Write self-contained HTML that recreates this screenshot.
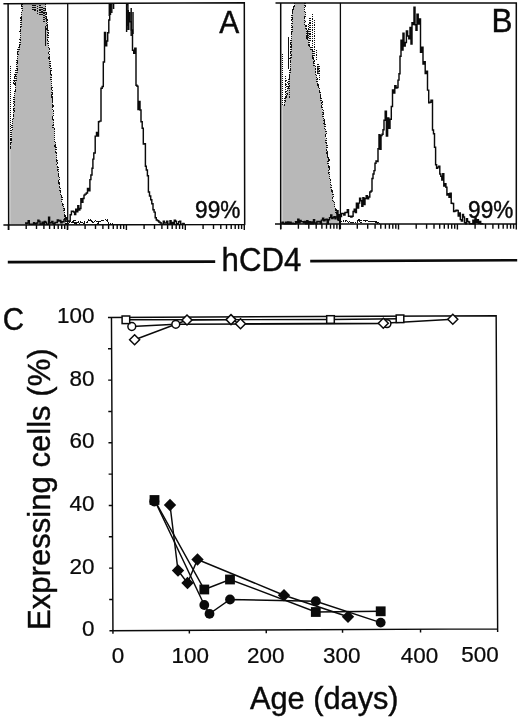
<!DOCTYPE html>
<html><head><meta charset="utf-8"><title>Figure</title>
<style>
html,body{margin:0;padding:0;background:#fff;}
svg{display:block;will-change:transform;}
</style></head>
<body>
<svg width="520" height="718" viewBox="0 0 520 718">
<rect x="0" y="0" width="520" height="718" fill="#fff"/>
<path d="M10.2 224.5L10.2 148.0L10.4 148.0L10.5 148.0L10.5 145.3L10.5 145.3L10.5 142.7L11.0 142.7L11.0 140.0L11.6 140.0L11.6 137.6L11.6 137.6L11.6 135.1L11.2 135.1L11.2 132.7L11.7 132.7L11.7 130.3L12.5 130.3L12.5 127.9L12.1 127.9L12.1 125.4L12.7 125.4L12.7 123.0L12.2 123.0L12.2 120.7L12.2 120.7L12.2 118.3L13.3 118.3L13.3 116.0L13.6 116.0L13.6 113.7L13.3 113.7L13.3 111.4L13.9 111.4L13.9 109.0L13.7 109.0L13.7 106.7L14.2 106.7L14.2 104.3L13.6 104.3L13.6 101.9L14.0 101.9L14.0 99.5L14.0 99.5L14.0 97.2L14.3 97.2L14.3 94.8L14.8 94.8L14.8 92.4L15.0 92.4L15.0 90.0L15.4 90.0L15.4 87.8L15.6 87.8L15.6 85.6L15.1 85.6L15.1 83.3L15.5 83.3L15.5 81.1L16.0 81.1L16.0 78.9L16.0 78.9L16.0 76.7L16.4 76.7L16.4 74.4L16.5 74.4L16.5 72.2L17.0 72.2L17.0 70.0L16.8 70.0L16.8 67.7L17.0 67.7L17.0 65.4L16.7 65.4L16.7 63.1L17.1 63.1L17.1 60.9L17.2 60.9L17.2 58.6L17.2 58.6L17.2 56.3L17.9 56.3L17.9 54.0L17.5 54.0L17.5 51.7L18.1 51.7L18.1 49.4L18.9 49.4L18.9 47.0L19.4 47.0L19.4 44.7L20.1 44.7L20.1 42.3L20.5 42.3L20.5 40.0L19.7 40.0L19.7 37.7L20.4 37.7L20.4 35.5L20.7 35.5L20.7 33.2L20.1 33.2L20.1 31.0L20.4 31.0L20.4 28.7L20.3 28.7L20.3 26.4L21.2 26.4L21.2 24.2L21.1 24.2L21.1 21.9L21.1 21.9L21.1 19.6L20.9 19.6L20.9 17.4L21.5 17.4L21.5 15.1L21.5 15.1L21.5 12.9L21.6 12.9L21.6 10.6L22.2 10.6L22.2 8.3L21.9 8.3L21.9 6.1L22.0 6.1L22.0 3.8L45.6 3.8L45.6 6.3L45.7 6.3L45.7 8.9L45.3 8.9L45.3 11.4L45.8 11.4L45.8 14.0L46.0 14.0L46.0 16.4L46.1 16.4L46.1 18.7L47.2 18.7L47.2 21.1L46.6 21.1L46.6 23.5L47.2 23.5L47.2 25.8L47.3 25.8L47.3 28.2L47.1 28.2L47.1 30.5L47.9 30.5L47.9 32.9L47.4 32.9L47.4 35.3L48.1 35.3L48.1 37.6L47.7 37.6L47.7 40.0L48.2 40.0L48.2 42.4L48.1 42.4L48.1 44.8L48.3 44.8L48.3 47.2L49.3 47.2L49.3 49.6L49.3 49.6L49.3 52.1L48.8 52.1L48.8 54.5L49.7 54.5L49.7 56.9L49.0 56.9L49.0 59.3L49.4 59.3L49.4 61.7L50.1 61.7L50.1 63.9L50.1 63.9L50.1 66.1L49.7 66.1L49.7 68.4L51.0 68.4L51.0 70.6L50.2 70.6L50.2 72.8L50.5 72.8L50.5 75.0L51.4 75.0L51.4 77.3L51.1 77.3L51.1 79.5L51.2 79.5L51.2 81.7L51.2 81.7L51.2 84.0L51.3 84.0L51.3 86.2L52.0 86.2L52.0 88.5L51.6 88.5L51.6 90.7L52.1 90.7L52.1 93.0L51.9 93.0L51.9 95.2L52.1 95.2L52.1 97.5L52.8 97.5L52.8 99.7L52.3 99.7L52.3 102.0L52.5 102.0L52.5 104.2L52.9 104.2L52.9 106.5L52.2 106.5L52.2 108.7L52.2 108.7L52.2 111.0L53.2 111.0L53.2 113.2L53.2 113.2L53.2 115.5L52.5 115.5L52.5 117.7L52.6 117.7L52.6 120.0L53.3 120.0L53.3 122.6L53.8 122.6L53.8 125.2L53.1 125.2L53.1 127.8L54.3 127.8L54.3 130.4L54.4 130.4L54.4 133.0L54.3 133.0L54.3 135.4L54.4 135.4L54.4 137.7L54.2 137.7L54.2 140.1L54.4 140.1L54.4 142.5L55.8 142.5L55.8 144.8L55.1 144.8L55.1 147.2L55.9 147.2L55.9 149.6L55.7 149.6L55.7 152.0L56.6 152.0L56.6 154.3L56.6 154.3L56.6 156.7L56.5 156.7L56.5 158.9L56.5 158.9L56.5 161.1L57.4 161.1L57.4 163.3L56.8 163.3L56.8 165.6L57.2 165.6L57.2 167.8L57.9 167.8L57.9 170.0L58.4 170.0L58.4 172.4L58.4 172.4L58.4 174.8L58.3 174.8L58.3 177.2L59.4 177.2L59.4 179.6L58.8 179.6L58.8 182.0L58.9 182.0L58.9 184.5L59.6 184.5L59.6 187.0L60.2 187.0L60.2 189.5L60.1 189.5L60.1 192.0L60.6 192.0L60.6 194.6L61.2 194.6L61.2 197.2L61.9 197.2L61.9 199.8L61.8 199.8L61.8 202.4L62.4 202.4L62.4 205.0L63.5 205.0L63.5 207.5L64.1 207.5L64.1 210.0L64.2 210.0L64.2 212.5L64.7 212.5L64.7 215.0L65.1 215.0L65.1 218.0L65.3 218.0L65.3 221.0L65.9 221.0L65.9 224.5L67.6 224.5Z" fill="#b8b8b8" stroke="none"/>
<path d="M22.0 3.8L22.0 6.1L21.9 6.1L21.9 8.3L22.2 8.3L22.2 10.6L21.6 10.6L21.6 12.9L21.5 12.9L21.5 15.1L21.5 15.1L21.5 17.4L20.9 17.4L20.9 19.6L21.1 19.6L21.1 21.9L21.1 21.9L21.1 24.2L21.2 24.2L21.2 26.4L20.3 26.4L20.3 28.7L20.4 28.7L20.4 31.0L20.1 31.0L20.1 33.2L20.7 33.2L20.7 35.5L20.4 35.5L20.4 37.7L19.7 37.7L19.7 40.0L20.5 40.0L20.5 42.3L20.1 42.3L20.1 44.7L19.4 44.7L19.4 47.0L18.9 47.0L18.9 49.4L18.1 49.4L18.1 51.7L17.5 51.7L17.5 54.0L17.9 54.0L17.9 56.3L17.2 56.3L17.2 58.6L17.2 58.6L17.2 60.9L17.1 60.9L17.1 63.1L16.7 63.1L16.7 65.4L17.0 65.4L17.0 67.7L16.8 67.7L16.8 70.0L17.0 70.0L17.0 72.2L16.5 72.2L16.5 74.4L16.4 74.4L16.4 76.7L16.0 76.7L16.0 78.9L16.0 78.9L16.0 81.1L15.5 81.1L15.5 83.3L15.1 83.3L15.1 85.6L15.6 85.6L15.6 87.8L15.4 87.8L15.4 90.0L15.0 90.0L15.0 92.4L14.8 92.4L14.8 94.8L14.3 94.8L14.3 97.2L14.0 97.2L14.0 99.5L14.0 99.5L14.0 101.9L13.6 101.9L13.6 104.3L14.2 104.3L14.2 106.7L13.7 106.7L13.7 109.0L13.9 109.0L13.9 111.4L13.3 111.4L13.3 113.7L13.6 113.7L13.6 116.0L13.3 116.0L13.3 118.3L12.2 118.3L12.2 120.7L12.2 120.7L12.2 123.0L12.7 123.0L12.7 125.4L12.1 125.4L12.1 127.9L12.5 127.9L12.5 130.3L11.7 130.3L11.7 132.7L11.2 132.7L11.2 135.1L11.6 135.1L11.6 137.6L11.6 137.6L11.6 140.0L11.0 140.0L11.0 142.7L10.5 142.7L10.5 145.3L10.5 145.3L10.5 148.0L10.4 148.0" shape-rendering="crispEdges" fill="none" stroke="#111" stroke-width="1.3" stroke-dasharray="1.2 1.0"/>
<path d="M45.6 3.8L45.6 6.3L45.7 6.3L45.7 8.9L45.3 8.9L45.3 11.4L45.8 11.4L45.8 14.0L46.0 14.0L46.0 16.4L46.1 16.4L46.1 18.7L47.2 18.7L47.2 21.1L46.6 21.1L46.6 23.5L47.2 23.5L47.2 25.8L47.3 25.8L47.3 28.2L47.1 28.2L47.1 30.5L47.9 30.5L47.9 32.9L47.4 32.9L47.4 35.3L48.1 35.3L48.1 37.6L47.7 37.6L47.7 40.0L48.2 40.0L48.2 42.4L48.1 42.4L48.1 44.8L48.3 44.8L48.3 47.2L49.3 47.2L49.3 49.6L49.3 49.6L49.3 52.1L48.8 52.1L48.8 54.5L49.7 54.5L49.7 56.9L49.0 56.9L49.0 59.3L49.4 59.3L49.4 61.7L50.1 61.7L50.1 63.9L50.1 63.9L50.1 66.1L49.7 66.1L49.7 68.4L51.0 68.4L51.0 70.6L50.2 70.6L50.2 72.8L50.5 72.8L50.5 75.0L51.4 75.0L51.4 77.3L51.1 77.3L51.1 79.5L51.2 79.5L51.2 81.7L51.2 81.7L51.2 84.0L51.3 84.0L51.3 86.2L52.0 86.2L52.0 88.5L51.6 88.5L51.6 90.7L52.1 90.7L52.1 93.0L51.9 93.0L51.9 95.2L52.1 95.2L52.1 97.5L52.8 97.5L52.8 99.7L52.3 99.7L52.3 102.0L52.5 102.0L52.5 104.2L52.9 104.2L52.9 106.5L52.2 106.5L52.2 108.7L52.2 108.7L52.2 111.0L53.2 111.0L53.2 113.2L53.2 113.2L53.2 115.5L52.5 115.5L52.5 117.7L52.6 117.7L52.6 120.0L53.3 120.0L53.3 122.6L53.8 122.6L53.8 125.2L53.1 125.2L53.1 127.8L54.3 127.8L54.3 130.4L54.4 130.4L54.4 133.0L54.3 133.0L54.3 135.4L54.4 135.4L54.4 137.7L54.2 137.7L54.2 140.1L54.4 140.1L54.4 142.5L55.8 142.5L55.8 144.8L55.1 144.8L55.1 147.2L55.9 147.2L55.9 149.6L55.7 149.6L55.7 152.0L56.6 152.0L56.6 154.3L56.6 154.3L56.6 156.7L56.5 156.7L56.5 158.9L56.5 158.9L56.5 161.1L57.4 161.1L57.4 163.3L56.8 163.3L56.8 165.6L57.2 165.6L57.2 167.8L57.9 167.8L57.9 170.0L58.4 170.0L58.4 172.4L58.4 172.4L58.4 174.8L58.3 174.8L58.3 177.2L59.4 177.2L59.4 179.6L58.8 179.6L58.8 182.0L58.9 182.0L58.9 184.5L59.6 184.5L59.6 187.0L60.2 187.0L60.2 189.5L60.1 189.5L60.1 192.0L60.6 192.0L60.6 194.6L61.2 194.6L61.2 197.2L61.9 197.2L61.9 199.8L61.8 199.8L61.8 202.4L62.4 202.4L62.4 205.0L63.5 205.0L63.5 207.5L64.1 207.5L64.1 210.0L64.2 210.0L64.2 212.5L64.7 212.5L64.7 215.0L65.1 215.0L65.1 218.0L65.3 218.0L65.3 221.0L65.9 221.0L65.9 224.5L67.6 224.5" shape-rendering="crispEdges" fill="none" stroke="#111" stroke-width="1.3" stroke-dasharray="1.2 1.0"/>
<path d="M10.4 66V148" shape-rendering="crispEdges" fill="none" stroke="#111" stroke-width="1.6" stroke-dasharray="1 1"/>
<path d="M16 70l-2 8M17 68l-2.5 10M15 76l-1.5 8" shape-rendering="crispEdges" fill="none" stroke="#111" stroke-width="1.3" stroke-dasharray="1.2 1.0"/>
<path d="M33 5v5M35 5v7M37.5 6v8M40 5v10M42 7v9M44 8v14M46.5 12v14M47.8 20v10" shape-rendering="crispEdges" fill="none" stroke="#111" stroke-width="1.3" stroke-dasharray="1.2 1.0"/>
<path d="M45.5 26V46" stroke="#111" stroke-width="1" fill="none"/>
<path d="M68.0 223.4H69.3V222.4H70.7V222.8H72.0V222.1H73.5V220.2H75.0V224.0H76.5V222.7H78.0V222.1H79.5V223.1H81.0V221.9H82.5V223.3H84.0V222.0H85.5V222.5H87.0V221.3H88.5V219.9H90.0V220.7H91.5V222.0H93.0V221.2H94.5V221.3H96.0V220.9H97.5V223.1H99.0V221.4H100.5V220.4H102.0V220.5H103.7V220.3H105.3V219.6H107.0V221.8H108.7V223.2H110.3V223.7H112.0V223.8" shape-rendering="crispEdges" fill="none" stroke="#111" stroke-width="1.3" stroke-dasharray="1.2 1.0"/>
<path d="M25.0 222.9H26.1V223.3H27.1V223.0H28.2V220.8H29.3V224.2H30.4V224.2H31.4V224.2H32.5V224.2H33.6V222.6H34.6V224.0H35.7V223.4H36.8V223.0H37.9V220.3H38.9V221.2H40.0V224.2H41.1V224.0H42.1V222.3H43.2V224.2H44.3V221.5H45.4V222.2H46.4V224.1H47.5V224.2H48.6V217.2H49.6V222.9H50.7V222.7H51.8V221.4H52.9V223.4H53.9V224.2H55.0V222.4H56.2V222.6H57.3V219.9H58.5V221.0H59.7V220.4H60.8V222.8H62.0V221.7H63.0V221.8H64.0V219.6H65.0V219.1H66.0V217.6H67.0V221.2H68.0V220.9H69.1V221.3H70.2V214.8H71.4V211.3H72.5V211.3H73.5V212.0H74.6V214.5H75.7V209.1H76.7V211.8H77.8V205.6H78.8V209.9H79.8V208.5H80.9V198.8H81.9V202.2H82.9V198.4H84.0V195.1H85.0V194.1H86.3V192.9H87.5V188.5H88.8V190.8H89.9V179.6H90.9V174.9H92.0V168.3H92.9V159.1H93.8V152.9H95.2V136.1H96.5V132.4H97.5V135.9H98.5V121.8H99.5V121.1H101.0V88.2H102.2V86.5H103.3V62.0H104.5V32.5H105.6V45.8H106.7V41.0H107.7V32.7H108.8V20.0H109.7V14.2H110.5V3.8" fill="none" stroke="#0a0a0a" stroke-width="1.45" stroke-linejoin="miter"/>
<path d="M126.0 4.6H126.9V3.8H127.9V29.2H128.8V12.6H130.0V21.7H131.3V30.0H132.5V50.2H133.7V53.3H134.8V48.1H136.0V85.3H137.0V86.3H138.0V109.6H139.0V101.4H140.0V110.0H141.0V121.7H142.2V128.3H143.3V144.0H144.5V143.8H145.4V166.2H146.3V170.0H147.4V175.7H148.4V192.0H149.5V195.9H150.7V199.8H151.8V203.8H153.0V209.7H154.1V212.1H155.2V217.7H156.3V220.0H157.5V220.8H158.8V221.9H160.0V222.7H161.1V224.2H162.2V224.2H163.3V221.1H164.4V222.9H165.6V222.9H166.7V221.3H167.8V224.2H168.9V224.2H170.0V220.6H171.1V224.2H172.1V222.5H173.2V224.0H174.3V220.3H175.4V221.3H176.4V223.7H177.5V224.2H178.6V221.7H179.6V221.2H180.7V224.2H181.8V224.2H182.9V223.4H183.9V224.0H185.0V224.0" fill="none" stroke="#0a0a0a" stroke-width="1.45" stroke-linejoin="miter"/>
<path d="M109.3 4v12M111.8 4v9M113.6 4v5M126.6 4v28M128.2 10v16M131.2 8v28M133 12v22" fill="none" stroke="#0a0a0a" stroke-width="1.45" stroke-linejoin="miter"/>
<path d="M3.4 3.8L244.3 2.8L244.7 224.9M8.1 3.8L8.7 230.0M3.4 224.9L245.2 224.4" fill="none" stroke="#0a0a0a" stroke-width="1.5"/>
<path d="M67.7 3.8V229.5" fill="none" stroke="#0a0a0a" stroke-width="1.3"/>
<path d="M8.4 224.5v5.4M26.2 224.5v4.6M36.5 224.5v4.6M43.9 224.5v4.6M49.6 224.5v4.6M54.3 224.5v4.6M58.2 224.5v4.6M61.7 224.5v4.6M64.7 224.5v4.6M67.4 224.5v5.4M85.1 224.5v4.6M95.5 224.5v4.6M102.9 224.5v4.6M108.6 224.5v4.6M113.3 224.5v4.6M117.2 224.5v4.6M120.6 224.5v4.6M123.7 224.5v4.6M126.4 224.5v5.4M144.1 224.5v4.6M154.5 224.5v4.6M161.9 224.5v4.6M167.6 224.5v4.6M172.2 224.5v4.6M176.2 224.5v4.6M179.6 224.5v4.6M182.6 224.5v4.6M185.3 224.5v5.4M203.1 224.5v4.6M213.5 224.5v4.6M220.8 224.5v4.6M226.5 224.5v4.6M231.2 224.5v4.6M235.2 224.5v4.6M238.6 224.5v4.6M241.6 224.5v4.6M244.3 224.5v5.4" fill="none" stroke="#0a0a0a" stroke-width="1.4"/>
<path d="M282.3 224.1L282.3 105.0L282.5 105.0L284.5 105.0L284.5 101.0L284.9 101.0L284.9 98.7L285.9 98.7L285.9 96.3L286.7 96.3L286.7 94.0L286.9 94.0L286.9 91.7L287.4 91.7L287.4 89.3L287.8 89.3L287.8 87.0L288.7 87.0L288.7 84.8L288.3 84.8L288.3 82.5L288.9 82.5L288.9 80.2L288.7 80.2L288.7 78.0L289.6 78.0L289.6 75.8L289.3 75.8L289.3 73.5L290.0 73.5L290.0 71.2L290.0 71.2L290.0 69.0L290.3 69.0L290.3 66.6L290.3 66.6L290.3 64.3L290.7 64.3L290.7 61.9L290.2 61.9L290.2 59.6L290.0 59.6L290.0 57.2L290.9 57.2L290.9 54.9L290.7 54.9L290.7 52.5L291.1 52.5L291.1 50.1L291.0 50.1L291.0 47.8L290.9 47.8L290.9 45.4L291.1 45.4L291.1 43.1L291.0 43.1L291.0 40.7L291.3 40.7L291.3 38.4L291.5 38.4L291.5 36.0L291.7 36.0L291.7 33.8L291.3 33.8L291.3 31.5L292.0 31.5L292.0 29.2L292.1 29.2L292.1 27.0L291.7 27.0L291.7 24.8L292.1 24.8L292.1 22.5L292.4 22.5L292.4 20.2L291.9 20.2L291.9 18.0L292.0 18.0L292.0 15.8L292.3 15.8L292.3 13.5L292.7 13.5L292.7 11.2L292.5 11.2L292.5 9.0L293.8 9.0L293.8 5.9L294.7 5.9L294.7 2.9L305.1 2.9L305.1 5.9L304.4 5.9L304.4 9.0L304.2 9.0L304.2 11.2L305.4 11.2L305.4 13.5L305.2 13.5L305.2 15.8L305.1 15.8L305.1 18.0L304.6 18.0L304.6 20.2L305.8 20.2L305.8 22.5L304.8 22.5L304.8 24.8L305.9 24.8L305.9 27.0L305.9 27.0L305.9 29.2L306.5 29.2L306.5 31.5L306.7 31.5L306.7 33.8L306.5 33.8L306.5 36.0L306.8 36.0L306.8 38.2L307.3 38.2L307.3 40.5L308.7 40.5L308.7 42.8L308.9 42.8L308.9 45.0L309.6 45.0L309.6 47.2L310.9 47.2L310.9 49.5L312.3 49.5L312.3 51.8L313.0 51.8L313.0 54.0L313.0 54.0L313.0 56.2L313.1 56.2L313.1 58.5L313.6 58.5L313.6 60.8L314.1 60.8L314.1 63.0L314.0 63.0L314.0 65.2L315.5 65.2L315.5 67.5L315.2 67.5L315.2 69.8L315.8 69.8L315.8 72.0L315.7 72.0L315.7 74.3L316.5 74.3L316.5 76.6L316.7 76.6L316.7 78.9L317.1 78.9L317.1 81.2L317.3 81.2L317.3 83.6L318.1 83.6L318.1 85.9L318.2 85.9L318.2 88.2L319.5 88.2L319.5 90.5L319.2 90.5L319.2 92.8L320.6 92.8L320.6 95.0L320.4 95.0L320.4 97.3L321.1 97.3L321.1 99.5L321.1 99.5L321.1 101.8L322.1 101.8L322.1 104.1L321.6 104.1L321.6 106.3L322.1 106.3L322.1 108.6L322.3 108.6L322.3 110.9L323.3 110.9L323.3 113.1L322.9 113.1L322.9 115.4L323.0 115.4L323.0 117.7L323.8 117.7L323.8 119.9L324.6 119.9L324.6 122.2L323.9 122.2L323.9 124.4L325.0 124.4L325.0 126.7L324.6 126.7L324.6 129.0L325.8 129.0L325.8 131.4L326.3 131.4L326.3 133.7L325.7 133.7L325.7 136.0L325.4 136.0L325.4 138.3L326.2 138.3L326.2 140.7L326.0 140.7L326.0 143.0L326.8 143.0L326.8 145.3L327.1 145.3L327.1 147.7L326.6 147.7L326.6 150.0L327.3 150.0L327.3 152.3L327.0 152.3L327.0 154.6L327.3 154.6L327.3 156.9L328.7 156.9L328.7 159.2L328.9 159.2L328.9 161.5L328.1 161.5L328.1 163.8L328.2 163.8L328.2 166.2L329.0 166.2L329.0 168.5L329.3 168.5L329.3 170.8L329.0 170.8L329.0 173.1L329.3 173.1L329.3 175.4L329.7 175.4L329.7 177.7L329.5 177.7L329.5 180.0L330.5 180.0L330.5 182.2L330.4 182.2L330.4 184.4L331.2 184.4L331.2 186.7L331.0 186.7L331.0 188.9L331.2 188.9L331.2 191.1L332.7 191.1L332.7 193.3L333.1 193.3L333.1 195.6L333.3 195.6L333.3 197.8L332.7 197.8L332.7 200.0L333.8 200.0L333.8 202.5L334.8 202.5L334.8 205.0L334.8 205.0L334.8 207.5L335.2 207.5L335.2 210.0L336.1 210.0L336.1 212.5L337.0 212.5L337.0 215.0L337.6 215.0L337.6 217.3L338.1 217.3L338.1 219.6L338.9 219.6L338.9 221.8L339.4 221.8L339.4 224.1L340.2 224.1Z" fill="#b8b8b8" stroke="none"/>
<path d="M294.7 2.9L294.7 5.9L293.8 5.9L293.8 9.0L292.5 9.0L292.5 11.2L292.7 11.2L292.7 13.5L292.3 13.5L292.3 15.8L292.0 15.8L292.0 18.0L291.9 18.0L291.9 20.2L292.4 20.2L292.4 22.5L292.1 22.5L292.1 24.8L291.7 24.8L291.7 27.0L292.1 27.0L292.1 29.2L292.0 29.2L292.0 31.5L291.3 31.5L291.3 33.8L291.7 33.8L291.7 36.0L291.5 36.0L291.5 38.4L291.3 38.4L291.3 40.7L291.0 40.7L291.0 43.1L291.1 43.1L291.1 45.4L290.9 45.4L290.9 47.8L291.0 47.8L291.0 50.1L291.1 50.1L291.1 52.5L290.7 52.5L290.7 54.9L290.9 54.9L290.9 57.2L290.0 57.2L290.0 59.6L290.2 59.6L290.2 61.9L290.7 61.9L290.7 64.3L290.3 64.3L290.3 66.6L290.3 66.6L290.3 69.0L290.0 69.0L290.0 71.2L290.0 71.2L290.0 73.5L289.3 73.5L289.3 75.8L289.6 75.8L289.6 78.0L288.7 78.0L288.7 80.2L288.9 80.2L288.9 82.5L288.3 82.5L288.3 84.8L288.7 84.8L288.7 87.0L287.8 87.0L287.8 89.3L287.4 89.3L287.4 91.7L286.9 91.7L286.9 94.0L286.7 94.0L286.7 96.3L285.9 96.3L285.9 98.7L284.9 98.7L284.9 101.0L284.5 101.0L284.5 105.0L282.5 105.0" shape-rendering="crispEdges" fill="none" stroke="#111" stroke-width="1.3" stroke-dasharray="1.2 1.0"/>
<path d="M305.1 2.9L305.1 5.9L304.4 5.9L304.4 9.0L304.2 9.0L304.2 11.2L305.4 11.2L305.4 13.5L305.2 13.5L305.2 15.8L305.1 15.8L305.1 18.0L304.6 18.0L304.6 20.2L305.8 20.2L305.8 22.5L304.8 22.5L304.8 24.8L305.9 24.8L305.9 27.0L305.9 27.0L305.9 29.2L306.5 29.2L306.5 31.5L306.7 31.5L306.7 33.8L306.5 33.8L306.5 36.0L306.8 36.0L306.8 38.2L307.3 38.2L307.3 40.5L308.7 40.5L308.7 42.8L308.9 42.8L308.9 45.0L309.6 45.0L309.6 47.2L310.9 47.2L310.9 49.5L312.3 49.5L312.3 51.8L313.0 51.8L313.0 54.0L313.0 54.0L313.0 56.2L313.1 56.2L313.1 58.5L313.6 58.5L313.6 60.8L314.1 60.8L314.1 63.0L314.0 63.0L314.0 65.2L315.5 65.2L315.5 67.5L315.2 67.5L315.2 69.8L315.8 69.8L315.8 72.0L315.7 72.0L315.7 74.3L316.5 74.3L316.5 76.6L316.7 76.6L316.7 78.9L317.1 78.9L317.1 81.2L317.3 81.2L317.3 83.6L318.1 83.6L318.1 85.9L318.2 85.9L318.2 88.2L319.5 88.2L319.5 90.5L319.2 90.5L319.2 92.8L320.6 92.8L320.6 95.0L320.4 95.0L320.4 97.3L321.1 97.3L321.1 99.5L321.1 99.5L321.1 101.8L322.1 101.8L322.1 104.1L321.6 104.1L321.6 106.3L322.1 106.3L322.1 108.6L322.3 108.6L322.3 110.9L323.3 110.9L323.3 113.1L322.9 113.1L322.9 115.4L323.0 115.4L323.0 117.7L323.8 117.7L323.8 119.9L324.6 119.9L324.6 122.2L323.9 122.2L323.9 124.4L325.0 124.4L325.0 126.7L324.6 126.7L324.6 129.0L325.8 129.0L325.8 131.4L326.3 131.4L326.3 133.7L325.7 133.7L325.7 136.0L325.4 136.0L325.4 138.3L326.2 138.3L326.2 140.7L326.0 140.7L326.0 143.0L326.8 143.0L326.8 145.3L327.1 145.3L327.1 147.7L326.6 147.7L326.6 150.0L327.3 150.0L327.3 152.3L327.0 152.3L327.0 154.6L327.3 154.6L327.3 156.9L328.7 156.9L328.7 159.2L328.9 159.2L328.9 161.5L328.1 161.5L328.1 163.8L328.2 163.8L328.2 166.2L329.0 166.2L329.0 168.5L329.3 168.5L329.3 170.8L329.0 170.8L329.0 173.1L329.3 173.1L329.3 175.4L329.7 175.4L329.7 177.7L329.5 177.7L329.5 180.0L330.5 180.0L330.5 182.2L330.4 182.2L330.4 184.4L331.2 184.4L331.2 186.7L331.0 186.7L331.0 188.9L331.2 188.9L331.2 191.1L332.7 191.1L332.7 193.3L333.1 193.3L333.1 195.6L333.3 195.6L333.3 197.8L332.7 197.8L332.7 200.0L333.8 200.0L333.8 202.5L334.8 202.5L334.8 205.0L334.8 205.0L334.8 207.5L335.2 207.5L335.2 210.0L336.1 210.0L336.1 212.5L337.0 212.5L337.0 215.0L337.6 215.0L337.6 217.3L338.1 217.3L338.1 219.6L338.9 219.6L338.9 221.8L339.4 221.8L339.4 224.1L340.2 224.1" shape-rendering="crispEdges" fill="none" stroke="#111" stroke-width="1.3" stroke-dasharray="1.2 1.0"/>
<path d="M282.6 54V105" shape-rendering="crispEdges" fill="none" stroke="#111" stroke-width="1.6" stroke-dasharray="1 1"/>
<path d="M285.4 76V100M289.5 70V98" shape-rendering="crispEdges" fill="none" stroke="#111" stroke-width="1.3" stroke-dasharray="1.2 1.0"/>
<path d="M288.5 37V69" stroke="#111" stroke-width="1" fill="none"/>
<path d="M286 80l3 6M285.5 84l3 5" shape-rendering="crispEdges" fill="none" stroke="#111" stroke-width="1.3" stroke-dasharray="1.2 1.0"/>
<path d="M312.5 14V50M314.3 20V56M310 18v24M308.5 24v14M316.5 50v10M318 64v10M319.5 66v14" shape-rendering="crispEdges" fill="none" stroke="#111" stroke-width="1.3" stroke-dasharray="1.2 1.0"/>
<path d="M307.6 30V40M317.8 66V74" stroke="#111" stroke-width="1.2" fill="none"/>
<path d="M341.0 221.3H342.7V221.1H344.3V221.0H346.0V221.3H347.5V221.7H349.0V222.3H350.5V222.4H352.0V222.3H353.5V222.3H355.0V222.2H356.5V222.0H358.0V219.4H359.5V222.2H361.0V220.8H362.5V220.8H364.0V221.1H365.5V220.5H367.0V221.6H368.5V221.5H370.0V221.3H371.5V221.5H373.0V221.7H374.5V222.1H376.0V222.9H377.7V222.2H379.3V223.5H381.0V223.6" shape-rendering="crispEdges" fill="none" stroke="#111" stroke-width="1.3" stroke-dasharray="1.2 1.0"/>
<path d="M281.0 223.1H282.1V222.1H283.2V223.4H284.4V223.8H285.5V222.2H286.6V223.8H287.7V222.0H288.8V223.8H289.9V222.2H291.1V223.8H292.2V223.3H293.3V223.8H294.4V223.8H295.5V221.7H296.6V222.9H297.8V219.1H298.9V222.7H300.0V220.4H301.1V221.6H302.2V221.6H303.4V222.7H304.5V221.4H305.6V223.8H306.8V220.6H307.9V223.8H309.0V221.6H310.1V223.8H311.2V222.0H312.4V223.7H313.5V219.6H314.6V223.0H315.8V223.8H316.9V221.5H318.0V221.7H319.1V221.5H320.3V223.4H321.4V220.1H322.6V218.3H323.7V220.7H324.9V219.8H326.0V219.3H327.2V223.8H328.3V219.7H329.5V217.6H330.7V214.9H331.8V218.5H333.0V217.5H334.0V216.6H335.0V218.8H336.0V217.0H337.0V210.8H338.0V220.1H339.2V214.6H340.3V216.5H341.5V213.5H342.7V213.4H343.8V215.1H345.0V212.5H346.2V212.4H347.3V209.8H348.5V216.3H349.7V216.3H350.8V216.9H352.0V216.2H353.1V211.4H354.2V209.2H355.3V212.4H356.4V203.2H357.5V207.9H358.6V203.1H359.6V198.1H360.7V200.7H361.8V206.2H362.9V197.8H363.9V204.4H365.0V198.4H366.2V195.6H367.4V198.8H368.6V196.9H369.8V191.9H371.0V191.0H372.0V178.4H373.0V174.0H374.0V170.6H375.0V163.2H376.0V161.0H377.0V161.6H378.0V148.7H379.0V134.8H380.0V149.3H381.0V135.6H382.0V134.3H383.0V129.7H384.0V120.3H385.2V111.1H386.4V136.0H387.6V118.0H388.8V128.3H390.0V119.3H391.3V106.4H392.5V90.0H393.7V92.9H394.8V85.6H396.0V87.9H397.0V87.4H398.0V80.1H399.0V73.7H400.0V56.2H401.0V40.2H402.0V49.9H403.0V33.2H404.0V45.9H405.2V42.5H406.4V30.9H407.6V36.0H408.8V38.8H410.0V27.5H411.0V44.1H412.0V22.8H413.0V24.5H414.0V7.1H415.0V24.8H416.0V30.2H417.0V14.3H418.2V23.9H419.3V19.0H420.5V52.2H421.8V47.1H423.0V64.0H424.1V61.6H425.2V73.4H426.4V71.3H427.5V90.1H428.7V102.7H429.8V102.2H431.0V100.3H432.5V129.9H433.5V133.8H434.5V147.2H435.6V164.8H436.6V168.2H437.7V167.1H438.8V166.1H439.8V174.0H440.8V176.2H441.8V179.9H442.8V173.8H443.8V185.9H444.8V183.7H445.9V187.2H446.9V195.1H447.9V193.8H449.0V197.3H450.0V193.3H451.2V203.3H452.4V203.5H453.6V211.5H454.8V211.0H456.0V210.1H457.1V210.5H458.2V216.1H459.2V213.0H460.3V219.6H461.4V221.0H462.5V214.5H463.5V217.0H464.5V222.8H465.5V223.8H466.5V218.8H467.5V221.4H468.6V221.9H469.6V223.8H470.7V223.8H471.8V223.8H472.9V220.1H473.9V223.8H475.0V218.0H476.1V222.6H477.3V219.8H478.4V223.2H479.6V221.5H480.7V223.7H481.9V223.8H483.0V223.6" fill="none" stroke="#0a0a0a" stroke-width="1.45" stroke-linejoin="miter"/>
<path d="M275.5 2.9H516.3V224.8M280.7 2.9V229.1M275 224.1H517.0" fill="none" stroke="#0a0a0a" stroke-width="1.5"/>
<path d="M340.4 2.9V229.1" fill="none" stroke="#0a0a0a" stroke-width="1.3"/>
<path d="M280.7 224.1v5.4M298.4 224.1v4.6M308.8 224.1v4.6M316.2 224.1v4.6M321.9 224.1v4.6M326.5 224.1v4.6M330.5 224.1v4.6M333.9 224.1v4.6M336.9 224.1v4.6M339.6 224.1v5.4M357.3 224.1v4.6M367.7 224.1v4.6M375.1 224.1v4.6M380.8 224.1v4.6M385.4 224.1v4.6M389.4 224.1v4.6M392.8 224.1v4.6M395.8 224.1v4.6M398.5 224.1v5.4M416.2 224.1v4.6M426.6 224.1v4.6M434.0 224.1v4.6M439.7 224.1v4.6M444.3 224.1v4.6M448.3 224.1v4.6M451.7 224.1v4.6M454.7 224.1v4.6M457.4 224.1v5.4M475.1 224.1v4.6M485.5 224.1v4.6M492.9 224.1v4.6M498.6 224.1v4.6M503.2 224.1v4.6M507.2 224.1v4.6M510.6 224.1v4.6M513.6 224.1v4.6M516.3 224.1v5.4" fill="none" stroke="#0a0a0a" stroke-width="1.4"/>
<text transform="translate(229.3 33.1) scale(0.990 1.060)" text-anchor="middle" font-size="30.3" stroke-width="0.40" font-family="Liberation Sans, Arial, sans-serif" fill="#0a0a0a" stroke="#0a0a0a">A</text>
<text transform="translate(502.0 32.1) scale(1.040 1.070)" text-anchor="middle" font-size="30.3" stroke-width="0.40" font-family="Liberation Sans, Arial, sans-serif" fill="#0a0a0a" stroke="#0a0a0a">B</text>
<text transform="translate(240.3 217.8) scale(1.000 1.030)" text-anchor="end" font-size="22.6" stroke-width="0.40" font-family="Liberation Sans, Arial, sans-serif" fill="#0a0a0a" stroke="#0a0a0a">99%</text>
<text transform="translate(513.3 217.6) scale(1.000 1.030)" text-anchor="end" font-size="22.6" stroke-width="0.40" font-family="Liberation Sans, Arial, sans-serif" fill="#0a0a0a" stroke="#0a0a0a">99%</text>
<path d="M7.8 262.1L215.2 261.6M310.2 261.1L517.2 260.2" fill="none" stroke="#0a0a0a" stroke-width="2.6"/>
<text transform="translate(261.5 270.6) scale(1.000 1.040)" text-anchor="middle" font-size="31.2" stroke-width="0.40" font-family="Liberation Sans, Arial, sans-serif" fill="#0a0a0a" stroke="#0a0a0a">hCD4</text>
<g><g transform="rotate(-0.27 305 473)"><path d="M108.7 316.6H496.9V632.8M112.2 316.6V632.8M108.7 629.8H496.9" fill="none" stroke="#0a0a0a" stroke-width="1.45"/><path d="M108.6 598.5h3.6M108.6 567.2h3.6M108.6 535.8h3.6M108.6 504.5h3.6M108.6 473.2h3.6M108.6 441.9h3.6M108.6 410.6h3.6M108.6 379.2h3.6M108.6 347.9h3.6M188.6 629.8v3.2M265.5 629.8v3.2M341.8 629.8v3.2M419.8 629.8v3.2" fill="none" stroke="#0a0a0a" stroke-width="1.45"/></g>
<path d="M125.9 319.8L330.5 319.5L400.0 318.8" fill="none" stroke="#0a0a0a" stroke-width="1.45"/>
<path d="M131.8 326.5L175.8 324.3L387.0 323.6" fill="none" stroke="#0a0a0a" stroke-width="1.45"/>
<path d="M134.6 339.7L187.0 320.0L231.0 319.6" fill="none" stroke="#0a0a0a" stroke-width="1.45"/>
<path d="M240.5 323.8L383.3 323.3L452.8 319.2" fill="none" stroke="#0a0a0a" stroke-width="1.45"/>
<path d="M231 319.6L240.5 323.8" fill="none" stroke="#0a0a0a" stroke-width="1.45"/>
<circle cx="131.8" cy="326.5" r="3.9" fill="#fff" stroke="#0a0a0a" stroke-width="1.5"/>
<circle cx="175.8" cy="324.3" r="3.9" fill="#fff" stroke="#0a0a0a" stroke-width="1.5"/>
<circle cx="387.0" cy="323.6" r="3.9" fill="#fff" stroke="#0a0a0a" stroke-width="1.5"/>
<path d="M134.6 334.7l5.0 5.0l-5.0 5.0l-5.0 -5.0Z" fill="#fff" stroke="#0a0a0a" stroke-width="1.5"/>
<path d="M187.0 315.0l5.0 5.0l-5.0 5.0l-5.0 -5.0Z" fill="#fff" stroke="#0a0a0a" stroke-width="1.5"/>
<path d="M231.0 314.6l5.0 5.0l-5.0 5.0l-5.0 -5.0Z" fill="#fff" stroke="#0a0a0a" stroke-width="1.5"/>
<path d="M240.5 318.8l5.0 5.0l-5.0 5.0l-5.0 -5.0Z" fill="#fff" stroke="#0a0a0a" stroke-width="1.5"/>
<path d="M383.3 318.3l5.0 5.0l-5.0 5.0l-5.0 -5.0Z" fill="#fff" stroke="#0a0a0a" stroke-width="1.5"/>
<path d="M452.8 314.2l5.0 5.0l-5.0 5.0l-5.0 -5.0Z" fill="#fff" stroke="#0a0a0a" stroke-width="1.5"/>
<rect x="122.1" y="316.0" width="7.6" height="7.6" fill="#fff" stroke="#0a0a0a" stroke-width="1.5"/>
<rect x="326.7" y="315.7" width="7.6" height="7.6" fill="#fff" stroke="#0a0a0a" stroke-width="1.5"/>
<rect x="396.2" y="315.0" width="7.6" height="7.6" fill="#fff" stroke="#0a0a0a" stroke-width="1.5"/>
<path d="M154.5 500.0L204.3 589.5L230.0 579.5L315.8 612.0L380.7 611.3" fill="none" stroke="#0a0a0a" stroke-width="1.45"/>
<path d="M154.5 500.0L204.3 605.0L209.5 613.8L230.0 599.5L315.8 601.2L380.7 622.6" fill="none" stroke="#0a0a0a" stroke-width="1.45"/>
<path d="M170.0 505.0L178.0 570.5L187.5 583.0L197.5 559.5L284.0 595.2L348.0 616.8" fill="none" stroke="#0a0a0a" stroke-width="1.45"/>
<circle cx="154.3" cy="501.4" r="5.0" fill="#0a0a0a" stroke="none"/>
<circle cx="204.3" cy="605.0" r="4.9" fill="#0a0a0a" stroke="none"/>
<circle cx="209.5" cy="613.8" r="4.9" fill="#0a0a0a" stroke="none"/>
<circle cx="230.0" cy="599.5" r="4.9" fill="#0a0a0a" stroke="none"/>
<circle cx="315.8" cy="601.2" r="4.9" fill="#0a0a0a" stroke="none"/>
<circle cx="380.7" cy="622.6" r="4.9" fill="#0a0a0a" stroke="none"/>
<path d="M170.0 498.8l6.2 6.2l-6.2 6.2l-6.2 -6.2Z" fill="#0a0a0a" stroke="none"/>
<path d="M178.0 564.3l6.2 6.2l-6.2 6.2l-6.2 -6.2Z" fill="#0a0a0a" stroke="none"/>
<path d="M187.5 576.8l6.2 6.2l-6.2 6.2l-6.2 -6.2Z" fill="#0a0a0a" stroke="none"/>
<path d="M197.5 553.3l6.2 6.2l-6.2 6.2l-6.2 -6.2Z" fill="#0a0a0a" stroke="none"/>
<path d="M284.0 589.0l6.2 6.2l-6.2 6.2l-6.2 -6.2Z" fill="#0a0a0a" stroke="none"/>
<path d="M348.0 610.6l6.2 6.2l-6.2 6.2l-6.2 -6.2Z" fill="#0a0a0a" stroke="none"/>
<rect x="149.6" y="495.1" width="9.8" height="9.8" fill="#0a0a0a" stroke="none"/>
<rect x="199.4" y="584.6" width="9.8" height="9.8" fill="#0a0a0a" stroke="none"/>
<rect x="225.1" y="574.6" width="9.8" height="9.8" fill="#0a0a0a" stroke="none"/>
<rect x="310.9" y="607.1" width="9.8" height="9.8" fill="#0a0a0a" stroke="none"/>
<rect x="375.8" y="606.4" width="9.8" height="9.8" fill="#0a0a0a" stroke="none"/>
<text transform="translate(94.4 636.3) scale(1.045 1.000)" text-anchor="end" font-size="21.5" stroke-width="0.25" font-family="Liberation Sans, Arial, sans-serif" fill="#0a0a0a" stroke="#0a0a0a">0</text>
<text transform="translate(94.4 573.7) scale(1.045 1.000)" text-anchor="end" font-size="21.5" stroke-width="0.25" font-family="Liberation Sans, Arial, sans-serif" fill="#0a0a0a" stroke="#0a0a0a">20</text>
<text transform="translate(94.4 511.0) scale(1.045 1.000)" text-anchor="end" font-size="21.5" stroke-width="0.25" font-family="Liberation Sans, Arial, sans-serif" fill="#0a0a0a" stroke="#0a0a0a">40</text>
<text transform="translate(94.4 448.4) scale(1.045 1.000)" text-anchor="end" font-size="21.5" stroke-width="0.25" font-family="Liberation Sans, Arial, sans-serif" fill="#0a0a0a" stroke="#0a0a0a">60</text>
<text transform="translate(94.4 385.7) scale(1.045 1.000)" text-anchor="end" font-size="21.5" stroke-width="0.25" font-family="Liberation Sans, Arial, sans-serif" fill="#0a0a0a" stroke="#0a0a0a">80</text>
<text transform="translate(94.4 323.1) scale(1.045 1.000)" text-anchor="end" font-size="21.5" stroke-width="0.25" font-family="Liberation Sans, Arial, sans-serif" fill="#0a0a0a" stroke="#0a0a0a">100</text>
<text transform="translate(118.0 662.8) scale(1.045 1.000)" text-anchor="middle" font-size="21.5" stroke-width="0.25" font-family="Liberation Sans, Arial, sans-serif" fill="#0a0a0a" stroke="#0a0a0a">0</text>
<text transform="translate(190.3 662.8) scale(1.045 1.000)" text-anchor="middle" font-size="21.5" stroke-width="0.25" font-family="Liberation Sans, Arial, sans-serif" fill="#0a0a0a" stroke="#0a0a0a">100</text>
<text transform="translate(265.8 662.8) scale(1.045 1.000)" text-anchor="middle" font-size="21.5" stroke-width="0.25" font-family="Liberation Sans, Arial, sans-serif" fill="#0a0a0a" stroke="#0a0a0a">200</text>
<text transform="translate(341.8 662.8) scale(1.045 1.000)" text-anchor="middle" font-size="21.5" stroke-width="0.25" font-family="Liberation Sans, Arial, sans-serif" fill="#0a0a0a" stroke="#0a0a0a">300</text>
<text transform="translate(419.5 662.8) scale(1.045 1.000)" text-anchor="middle" font-size="21.5" stroke-width="0.25" font-family="Liberation Sans, Arial, sans-serif" fill="#0a0a0a" stroke="#0a0a0a">400</text>
<text transform="translate(498.8 662.4) scale(1.045 1.000)" text-anchor="end" font-size="21.5" stroke-width="0.25" font-family="Liberation Sans, Arial, sans-serif" fill="#0a0a0a" stroke="#0a0a0a">500</text>
<text transform="translate(2.8 329.6) scale(0.970 1.050)" text-anchor="start" font-size="30.4" stroke-width="0.40" font-family="Liberation Sans, Arial, sans-serif" fill="#0a0a0a" stroke="#0a0a0a">C</text>
<text transform="translate(324.3 709.2) scale(1.005 1.000)" text-anchor="middle" font-size="30.6" stroke-width="0.40" font-family="Liberation Sans, Arial, sans-serif" fill="#0a0a0a" stroke="#0a0a0a">Age (days)</text>
<text transform="translate(50.4 630.0) rotate(-90)" text-anchor="start" font-size="31.1" stroke-width="0.40" font-family="Liberation Sans, Arial, sans-serif" fill="#0a0a0a" stroke="#0a0a0a">Expressing cells (%)</text></g>
</svg>
</body></html>
